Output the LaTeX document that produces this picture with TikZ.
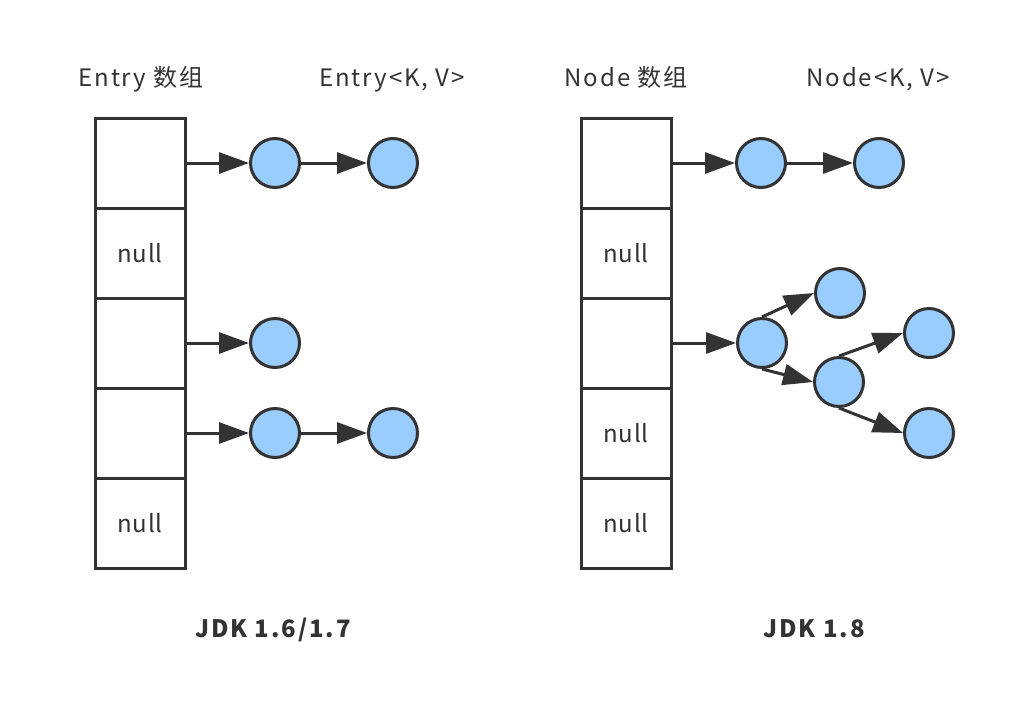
\documentclass[tikz,border=0pt]{standalone}
\usepackage{fontspec}
\setmainfont{Noto Sans CJK SC}
\newfontfamily\spacedfont[LetterSpace=8]{Noto Sans CJK SC}
\newfontfamily\cellfont[LetterSpace=3]{Noto Sans CJK SC}
\usetikzlibrary{arrows.meta}
\definecolor{ink}{HTML}{333333}
\definecolor{nodefill}{HTML}{99CCFF}
\tikzset{
  cell/.style={draw=ink, line width=3pt, minimum width=90pt, minimum height=90pt, inner sep=0pt, text=ink, font=\cellfont\fontsize{24}{28}\selectfont},
  kv/.style={circle, draw=ink, fill=nodefill, line width=3pt, minimum size=49pt, inner sep=0pt},
  link/.style={draw=ink, line width=3pt, -{Triangle[length=30pt, width=21pt]}},
  lbl/.style={anchor=base, text=ink, inner sep=0pt, font=\spacedfont\fontsize{24}{28}\selectfont},
  jdkcaption/.style={anchor=base, text=ink, inner sep=0pt, font=\spacedfont\fontsize{24}{28}\selectfont\bfseries},
}
\begin{document}
\begin{tikzpicture}[x=1pt, y=-1pt]
\useasboundingbox[fill=white] (0,0) rectangle (1020,702);
% left array
\node[cell] (a0) at (140,163) {};
\node[cell] (a1) at (140,253) {null};
\node[cell] (a2) at (140,343) {};
\node[cell] (a3) at (140,433) {};
\node[cell] (a4) at (140,523) {null};
\node[kv] (e1) at (275,163) {};
\node[kv] (e2) at (393,163) {};
\node[kv] (e3) at (275,343) {};
\node[kv] (e4) at (275,433) {};
\node[kv] (e5) at (393,433) {};
\draw[link] (a0.east) -- (e1.west);
\draw[link] (e1.east) -- (e2.west);
\draw[link] (a2.east) -- (e3.west);
\draw[link] (a3.east) -- (e4.west);
\draw[link] (e4.east) -- (e5.west);
% right array
\node[cell] (b0) at (626,163) {};
\node[cell] (b1) at (626,253) {null};
\node[cell] (b2) at (626,343) {};
\node[cell] (b3) at (626,433) {null};
\node[cell] (b4) at (626,523) {null};
\node[kv] (n1) at (761,163) {};
\node[kv] (n2) at (879,163) {};
\node[kv] (c1) at (762,343) {};
\node[kv] (t1) at (840,293) {};
\node[kv] (c2) at (839,382) {};
\node[kv] (r1) at (929,333) {};
\node[kv] (r2) at (929,433) {};
\draw[link] (b0.east) -- (n1.west);
\draw[link] (n1.east) -- (n2.west);
\draw[link] (b2.east) -- (c1.west);
\draw[link] (c1.north) -- (t1.west);
\draw[link] (c1.south) -- (c2.west);
\draw[link] (c2.north) -- (r1.west);
\draw[link] (c2.south) -- (r2.west);
% labels
\node[lbl] (la) at (141,86) {Entry 数组};
\node[lbl] (lb) at (392,86) {Entry<K, V>};
\node[lbl] (lc) at (626,86) {Node 数组};
\node[lbl] (ld) at (878,86) {Node<K, V>};
\node[jdkcaption] (ca) at (273,637) {JDK 1.6/1.7};
\node[jdkcaption] (cb) at (814,637) {JDK 1.8};
\end{tikzpicture}
\end{document}
